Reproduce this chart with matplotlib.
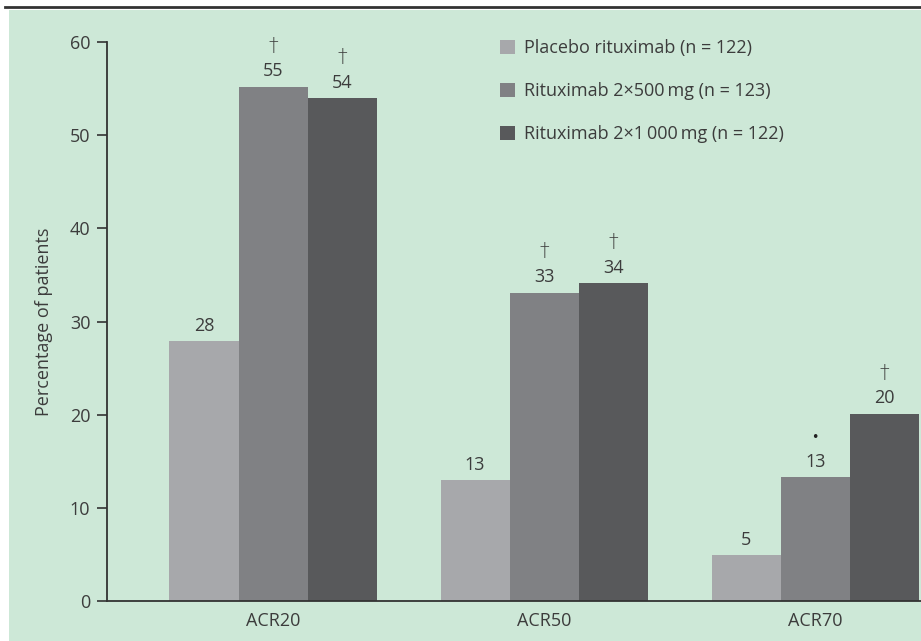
import matplotlib
matplotlib.use("Agg")
import matplotlib.pyplot as plt
from matplotlib.patches import Rectangle
from matplotlib.lines import Line2D
import numpy as np

categories = ["ACR20", "ACR50", "ACR70"]
series_names = ["Placebo rituximab (n = 122)",
                "Rituximab 2\u00d7500\u2009mg (n = 123)",
                "Rituximab 2\u00d71\u2009000\u2009mg (n = 122)"]
placebo = [27.9, 13.0, 4.9]
rtx500 = [55.2, 33.1, 13.3]
rtx1000 = [54.0, 34.1, 20.1]
labels_placebo = ["28", "13", "5"]
labels_500 = ["55", "33", "13"]
labels_1000 = ["54", "34", "20"]
marks_placebo = ["", "", ""]
marks_500 = ["\u2020", "\u2020", "\u2022"]
marks_1000 = ["\u2020", "\u2020", "\u2020"]
yticks = [0, 10, 20, 30, 40, 50, 60]

colors = ["#a7a8ab", "#808184", "#58595b"]
bg = "#cde8d7"
txt = "#3c3c3c"

plt.rcParams['font.family'] = ['Open Sans', 'DejaVu Sans']
W, H = 921, 641
fig = plt.figure(figsize=(W / 100, H / 100), dpi=100)
fig.patch.set_facecolor("white")
fig.patches.append(Rectangle((9 / W, 0), 1, (H - 10) / H, transform=fig.transFigure,
                             facecolor=bg, edgecolor="none", zorder=-10))
fig.lines.append(Line2D([5 / W, 1], [(H - 7) / H] * 2, transform=fig.transFigure,
                        color="#333333", lw=2.0, zorder=-5))

ax = fig.add_axes([107 / W, (H - 601) / H, (W - 107) / W, (601 - 42) / H])
ax.set_facecolor("none")
ax.set_zorder(1)

x = np.arange(len(categories))
bw = 0.255
series = [placebo, rtx500, rtx1000]
labs = [labels_placebo, labels_500, labels_1000]
marks = [marks_placebo, marks_500, marks_1000]
fs = 13
for i, (vals, lab, mk) in enumerate(zip(series, labs, marks)):
    xs = x + (i - 1) * bw
    ax.bar(xs, vals, width=bw, color=colors[i], label=series_names[i], zorder=2)
    for xx, v, l, m in zip(xs, vals, lab, mk):
        ax.annotate(l, (xx, v), xytext=(0, 11), textcoords="offset points",
                    ha="center", va="center", fontsize=fs, color=txt)
        if m:
            if m == "\u2022":
                ax.annotate(m, (xx, v), xytext=(0, 28.5), textcoords="offset points",
                            ha="center", va="center", fontsize=9, color="#222222",
                            family=['DejaVu Sans'])
            else:
                ax.annotate(m, (xx, v), xytext=(0, 30), textcoords="offset points",
                            ha="center", va="center", fontsize=fs + 1, color=txt,
                            family=['DejaVu Sans'], fontweight="light")

ax.set_xlim(-0.613, 2.39)
ax.set_ylim(0, 60)
ax.set_yticks(yticks)
ax.set_yticklabels([str(t) for t in yticks])
ax.set_xticks(x)
ax.set_xticklabels(categories)
ax.tick_params(axis="x", length=0, pad=8, labelsize=fs, labelcolor=txt)
ax.tick_params(axis="y", length=7, width=1.2, color="#333333", pad=5,
               labelsize=fs, labelcolor=txt)
for s in ["top", "right"]:
    ax.spines[s].set_visible(False)
for s in ["left", "bottom"]:
    ax.spines[s].set_color("#333333")
    ax.spines[s].set_linewidth(1.3)
ax.set_ylabel("Percentage of patients", fontsize=fs, color=txt, labelpad=12)

leg = ax.legend(loc="upper left", bbox_to_anchor=((484 - 107) / (W - 107), 1.034),
                frameon=False, fontsize=fs, handlelength=0.8, handleheight=0.8,
                handletextpad=0.5, labelspacing=1.39, labelcolor=txt)

fig.savefig("out.png", dpi=100, facecolor=fig.get_facecolor())
